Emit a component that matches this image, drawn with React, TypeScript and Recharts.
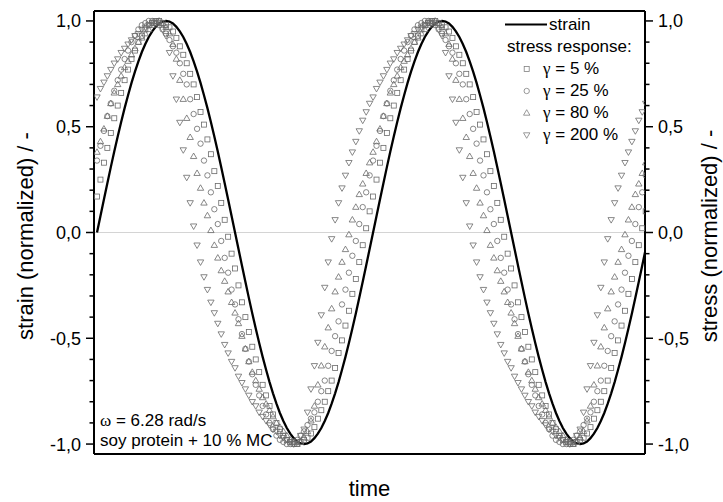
import { ComposedChart, Line, XAxis, YAxis, ReferenceLine, Legend } from 'recharts';

// one sample every 1/80 of a period, two periods (omega = 6.28 rad/s)
const strain = [
  0, 0.078, 0.156, 0.233, 0.309, 0.383, 0.454, 0.522, 0.588, 0.649, 0.707, 0.76, 0.809, 0.853, 0.891, 0.924, 0.951, 0.972, 0.988, 0.997,
  1, 0.997, 0.988, 0.972, 0.951, 0.924, 0.891, 0.853, 0.809, 0.76, 0.707, 0.649, 0.588, 0.522, 0.454, 0.383, 0.309, 0.233, 0.156, 0.078,
  0, -0.078, -0.156, -0.233, -0.309, -0.383, -0.454, -0.522, -0.588, -0.649, -0.707, -0.76, -0.809, -0.853, -0.891, -0.924, -0.951, -0.972, -0.988, -0.997,
  -1, -0.997, -0.988, -0.972, -0.951, -0.924, -0.891, -0.853, -0.809, -0.76, -0.707, -0.649, -0.588, -0.522, -0.454, -0.383, -0.309, -0.233, -0.156, -0.078,
  0, 0.078, 0.156, 0.233, 0.309, 0.383, 0.454, 0.522, 0.588, 0.649, 0.707, 0.76, 0.809, 0.853, 0.891, 0.924, 0.951, 0.972, 0.988, 0.997,
  1, 0.997, 0.988, 0.972, 0.951, 0.924, 0.891, 0.853, 0.809, 0.76, 0.707, 0.649, 0.588, 0.522, 0.454, 0.383, 0.309, 0.233, 0.156, 0.078,
  0, -0.078, -0.156, -0.233, -0.309, -0.383, -0.454, -0.522, -0.588, -0.649, -0.707, -0.76, -0.809, -0.853, -0.891, -0.924, -0.951, -0.972, -0.988, -0.997,
  -1, -0.997, -0.988, -0.972, -0.951, -0.924, -0.891, -0.853, -0.809, -0.76, -0.707, -0.649, -0.588, -0.522, -0.454, -0.383, -0.309, -0.233, -0.156, -0.078,
];

const stress5 = [
  0.17, 0.25, 0.33, 0.4, 0.47, 0.54, 0.6, 0.66, 0.72, 0.77, 0.82, 0.86, 0.9, 0.93, 0.96, 0.98, 0.99, 1, 1, 0.99,
  0.98, 0.97, 0.95, 0.92, 0.88, 0.84, 0.8, 0.75, 0.7, 0.64, 0.57, 0.51, 0.44, 0.37, 0.29, 0.22, 0.14, 0.06, -0.02, -0.1,
  -0.17, -0.25, -0.33, -0.4, -0.47, -0.54, -0.6, -0.66, -0.72, -0.77, -0.82, -0.86, -0.9, -0.93, -0.96, -0.98, -0.99, -1, -1, -0.99,
  -0.98, -0.97, -0.95, -0.92, -0.88, -0.84, -0.8, -0.75, -0.7, -0.64, -0.57, -0.51, -0.44, -0.37, -0.29, -0.22, -0.14, -0.06, 0.02, 0.1,
  0.17, 0.25, 0.33, 0.4, 0.47, 0.54, 0.6, 0.66, 0.72, 0.77, 0.82, 0.86, 0.9, 0.93, 0.96, 0.98, 0.99, 1, 1, 0.99,
  0.98, 0.97, 0.95, 0.92, 0.88, 0.84, 0.8, 0.75, 0.7, 0.64, 0.57, 0.51, 0.44, 0.37, 0.29, 0.22, 0.14, 0.06, -0.02, -0.1,
  -0.17, -0.25, -0.33, -0.4, -0.47, -0.54, -0.6, -0.66, -0.72, -0.77, -0.82, -0.86, -0.9, -0.93, -0.96, -0.98, -0.99, -1, -1, -0.99,
  -0.98, -0.97, -0.95, -0.92, -0.88, -0.84, -0.8, -0.75, -0.7, -0.64, -0.57, -0.51, -0.44, -0.37, -0.29, -0.22, -0.14, -0.06, 0.02, 0.1,
];

const stress25 = [
  0.34, 0.41, 0.48, 0.55, 0.61, 0.67, 0.72, 0.77, 0.82, 0.86, 0.9, 0.93, 0.96, 0.98, 0.99, 1, 1, 0.99, 0.98, 0.96,
  0.94, 0.91, 0.88, 0.85, 0.8, 0.75, 0.7, 0.63, 0.56, 0.49, 0.42, 0.34, 0.27, 0.19, 0.11, 0.04, -0.04, -0.12, -0.19, -0.27,
  -0.34, -0.41, -0.48, -0.55, -0.61, -0.67, -0.72, -0.77, -0.82, -0.86, -0.9, -0.93, -0.96, -0.98, -0.99, -1, -1, -0.99, -0.98, -0.96,
  -0.94, -0.91, -0.88, -0.85, -0.8, -0.75, -0.7, -0.63, -0.56, -0.49, -0.42, -0.34, -0.27, -0.19, -0.11, -0.04, 0.04, 0.12, 0.19, 0.27,
  0.34, 0.41, 0.48, 0.55, 0.61, 0.67, 0.72, 0.77, 0.82, 0.86, 0.9, 0.93, 0.96, 0.98, 0.99, 1, 1, 0.99, 0.98, 0.96,
  0.94, 0.91, 0.88, 0.85, 0.8, 0.75, 0.7, 0.63, 0.56, 0.49, 0.42, 0.34, 0.27, 0.19, 0.11, 0.04, -0.04, -0.12, -0.19, -0.27,
  -0.34, -0.41, -0.48, -0.55, -0.61, -0.67, -0.72, -0.77, -0.82, -0.86, -0.9, -0.93, -0.96, -0.98, -0.99, -1, -1, -0.99, -0.98, -0.96,
  -0.94, -0.91, -0.88, -0.85, -0.8, -0.75, -0.7, -0.63, -0.56, -0.49, -0.42, -0.34, -0.27, -0.19, -0.11, -0.04, 0.04, 0.12, 0.19, 0.27,
];

const stress80 = [
  0.38, 0.43, 0.49, 0.55, 0.61, 0.66, 0.7, 0.74, 0.78, 0.81, 0.84, 0.87, 0.9, 0.92, 0.94, 0.96, 0.98, 0.99, 1, 0.99,
  0.97, 0.94, 0.89, 0.82, 0.72, 0.63, 0.54, 0.45, 0.36, 0.28, 0.21, 0.14, 0.08, 0.01, -0.06, -0.12, -0.18, -0.23, -0.28, -0.33,
  -0.38, -0.43, -0.49, -0.55, -0.61, -0.66, -0.7, -0.74, -0.78, -0.81, -0.84, -0.87, -0.9, -0.92, -0.94, -0.96, -0.98, -0.99, -1, -0.99,
  -0.97, -0.94, -0.89, -0.82, -0.72, -0.63, -0.54, -0.45, -0.36, -0.28, -0.21, -0.14, -0.08, -0.01, 0.06, 0.12, 0.18, 0.23, 0.28, 0.33,
  0.38, 0.43, 0.49, 0.55, 0.61, 0.66, 0.7, 0.74, 0.78, 0.81, 0.84, 0.87, 0.9, 0.92, 0.94, 0.96, 0.98, 0.99, 1, 0.99,
  0.97, 0.94, 0.89, 0.82, 0.72, 0.63, 0.54, 0.45, 0.36, 0.28, 0.21, 0.14, 0.08, 0.01, -0.06, -0.12, -0.18, -0.23, -0.28, -0.33,
  -0.38, -0.43, -0.49, -0.55, -0.61, -0.66, -0.7, -0.74, -0.78, -0.81, -0.84, -0.87, -0.9, -0.92, -0.94, -0.96, -0.98, -0.99, -1, -0.99,
  -0.97, -0.94, -0.89, -0.82, -0.72, -0.63, -0.54, -0.45, -0.36, -0.28, -0.21, -0.14, -0.08, -0.01, 0.06, 0.12, 0.18, 0.23, 0.28, 0.33,
];

const stress200 = [
  0.64, 0.68, 0.71, 0.74, 0.77, 0.8, 0.82, 0.85, 0.87, 0.89, 0.91, 0.93, 0.94, 0.96, 0.97, 0.98, 0.99, 1, 0.99, 0.96,
  0.93, 0.85, 0.74, 0.63, 0.52, 0.39, 0.26, 0.14, 0.03, -0.06, -0.14, -0.21, -0.27, -0.33, -0.38, -0.43, -0.48, -0.53, -0.57, -0.61,
  -0.64, -0.68, -0.71, -0.74, -0.77, -0.8, -0.82, -0.85, -0.87, -0.89, -0.91, -0.93, -0.94, -0.96, -0.97, -0.98, -0.99, -1, -0.99, -0.96,
  -0.93, -0.85, -0.74, -0.63, -0.52, -0.39, -0.26, -0.14, -0.03, 0.06, 0.14, 0.21, 0.27, 0.33, 0.38, 0.43, 0.48, 0.53, 0.57, 0.61,
  0.64, 0.68, 0.71, 0.74, 0.77, 0.8, 0.82, 0.85, 0.87, 0.89, 0.91, 0.93, 0.94, 0.96, 0.97, 0.98, 0.99, 1, 0.99, 0.96,
  0.93, 0.85, 0.74, 0.63, 0.52, 0.39, 0.26, 0.14, 0.03, -0.06, -0.14, -0.21, -0.27, -0.33, -0.38, -0.43, -0.48, -0.53, -0.57, -0.61,
  -0.64, -0.68, -0.71, -0.74, -0.77, -0.8, -0.82, -0.85, -0.87, -0.89, -0.91, -0.93, -0.94, -0.96, -0.97, -0.98, -0.99, -1, -0.99, -0.96,
  -0.93, -0.85, -0.74, -0.63, -0.52, -0.39, -0.26, -0.14, -0.03, 0.06, 0.14, 0.21, 0.27, 0.33, 0.38, 0.43, 0.48, 0.53, 0.57, 0.61,
];

const amplitudes = ['5', '25', '80', '200'];
const shapes = ['square', 'circle', 'up', 'down'];
const seriesKeys = ['g5', 'g25', 'g80', 'g200'];

const yTicks = [-1, -0.9, -0.8, -0.7, -0.6, -0.5, -0.4, -0.3, -0.2, -0.1, 0, 0.1, 0.2, 0.3, 0.4, 0.5, 0.6, 0.7, 0.8, 0.9, 1];
const majorTicks = [-1, -0.5, 0, 0.5, 1];

const data = strain.map((s, i) => ({
  i,
  strain: s,
  g5: stress5[i],
  g25: stress25[i],
  g80: stress80[i],
  g200: stress200[i],
}));

const X_DOMAIN = [-0.87, 158.8];
const Y_DOMAIN = [-1.047, 1.047];
const MARKER = '#6a6a6a';
const FONT = "'Liberation Sans', Arial, sans-serif";
const SERIF = "'Liberation Serif', 'Times New Roman', serif";

function Marker({ cx, cy, shape, color = MARKER }: any) {
  if (cx == null || cy == null) return null;
  const p = { fill: 'none', stroke: color, strokeWidth: 0.8 };
  if (shape === 'square') return <rect x={cx - 2.5} y={cy - 2.5} width={5} height={5} {...p} />;
  if (shape === 'circle') return <circle cx={cx} cy={cy} r={2.7} {...p} />;
  if (shape === 'up')
    return <polygon points={`${cx},${cy - 3.3} ${cx + 3.2},${cy + 2.2} ${cx - 3.2},${cy + 2.2}`} {...p} />;
  return <polygon points={`${cx},${cy + 3.3} ${cx + 3.2},${cy - 2.2} ${cx - 3.2},${cy - 2.2}`} {...p} />;
}

const fmt = (v: number) => v.toFixed(1).replace('.', ',');

function SideTick({ x, y, payload, side }: any) {
  const v = payload.value;
  const major = majorTicks.includes(v);
  const len = major ? 8 : 4.5;
  const dir = side === 'left' ? -1 : 1;
  return (
    <g>
      <line x1={x} x2={x + dir * len} y1={y} y2={y} stroke="#000" strokeWidth={1.5} />
      {major && (
        <text
          x={x + dir * 13}
          y={y}
          dy="0.36em"
          textAnchor={side === 'left' ? 'end' : 'start'}
          fontSize={18}
          fill="#000"
          fontFamily={FONT}
        >
          {fmt(v)}
        </text>
      )}
    </g>
  );
}

function LegendBox() {
  const ox = 500;
  const oy = 10;
  return (
    <svg width={200} height={140} style={{ overflow: 'visible', fontFamily: FONT }}>
      <line x1={505 - ox} x2={547 - ox} y1={24.5 - oy} y2={24.5 - oy} stroke="#000" strokeWidth={2} />
      <text x={549 - ox} y={29.5 - oy} fontSize={17} fill="#000">strain</text>
      <text x={507 - ox} y={52 - oy} fontSize={17} fill="#000">stress response:</text>
      {amplitudes.map((a, j) => (
        <g key={a}>
          <Marker cx={526.7 - ox} cy={69 + 22 * j - oy} shape={shapes[j]} color="#808080" />
          <text x={543 - ox} y={74 + 22 * j - oy} fontSize={17} fill="#000">
            <tspan fontFamily={SERIF}>γ</tspan>
            {` = ${a} %`}
          </text>
        </g>
      ))}
    </svg>
  );
}

export default function App() {
  return (
    <div style={{ position: 'absolute', left: 0, top: 0, width: 723, height: 502, background: '#fff', fontFamily: FONT }}>
      <ComposedChart width={723} height={502} data={data} margin={{ top: 10, right: 18, bottom: 47, left: 34 }}>
        <XAxis
          xAxisId="b"
          dataKey="i"
          type="number"
          domain={X_DOMAIN}
          allowDataOverflow
          tick={false}
          tickLine={false}
          height={1}
          axisLine={{ stroke: '#000', strokeWidth: 2 }}
          label={{
            content: () => (
              <text x={369.5} y={496} textAnchor="middle" fontSize={22} fill="#000" fontFamily={FONT}>
                time
              </text>
            ),
          }}
        />
        <XAxis
          xAxisId="t"
          orientation="top"
          dataKey="i"
          type="number"
          domain={X_DOMAIN}
          allowDataOverflow
          tick={false}
          tickLine={false}
          height={1}
          axisLine={{ stroke: '#000', strokeWidth: 2 }}
        />
        <YAxis
          yAxisId="l"
          type="number"
          domain={Y_DOMAIN}
          ticks={yTicks}
          interval={0}
          allowDataOverflow
          width={60}
          tickSize={0}
          tickMargin={0}
          tickLine={false}
          axisLine={{ stroke: '#000', strokeWidth: 2 }}
          tick={<SideTick side="left" />}
          label={{
            content: () => (
              <text
                x={33}
                y={236}
                transform="rotate(-90 33 236)"
                textAnchor="middle"
                fontSize={22}
                fill="#000"
                fontFamily={FONT}
              >
                strain (normalized) / -
              </text>
            ),
          }}
        />
        <YAxis
          yAxisId="r"
          orientation="right"
          type="number"
          domain={Y_DOMAIN}
          ticks={yTicks}
          interval={0}
          allowDataOverflow
          width={60}
          tickSize={0}
          tickMargin={0}
          tickLine={false}
          axisLine={{ stroke: '#000', strokeWidth: 2 }}
          tick={<SideTick side="right" />}
          label={{
            content: () => (
              <text
                x={717}
                y={236}
                transform="rotate(-90 717 236)"
                textAnchor="middle"
                fontSize={22}
                fill="#000"
                fontFamily={FONT}
              >
                stress (normalized) / -
              </text>
            ),
          }}
        />
        <ReferenceLine xAxisId="b" yAxisId="l" y={0} stroke="#d4d4d4" strokeWidth={1} />
        {seriesKeys.map((k, j) => (
          <Line
            key={k}
            xAxisId="b"
            yAxisId="r"
            dataKey={k}
            stroke="none"
            strokeWidth={0}
            legendType="none"
            activeDot={false}
            isAnimationActive={false}
            dot={(p: any) => <Marker key={`${k}-${p.index}`} cx={p.cx} cy={p.cy} shape={shapes[j]} />}
          />
        ))}
        <Line
          xAxisId="b"
          yAxisId="l"
          dataKey="strain"
          type="linear"
          stroke="#000"
          strokeWidth={2.3}
          dot={false}
          activeDot={false}
          legendType="none"
          isAnimationActive={false}
        />
        <Legend
          layout="horizontal"
          verticalAlign="middle"
          align="center"
          wrapperStyle={{ left: 500, top: 10, width: 200, height: 140 }}
          content={() => <LegendBox />}
        />
      </ComposedChart>
      <svg width={723} height={502} style={{ position: 'absolute', left: 0, top: 0, pointerEvents: 'none' }}>
        <text x={100} y={426} fontSize={17} fill="#000" fontFamily={FONT}>
          <tspan fontFamily={SERIF}>ω</tspan>
          {' = 6.28 rad/s'}
        </text>
        <text x={100} y={446} fontSize={17} fill="#000" fontFamily={FONT}>
          soy protein + 10 % MC
        </text>
      </svg>
    </div>
  );
}
